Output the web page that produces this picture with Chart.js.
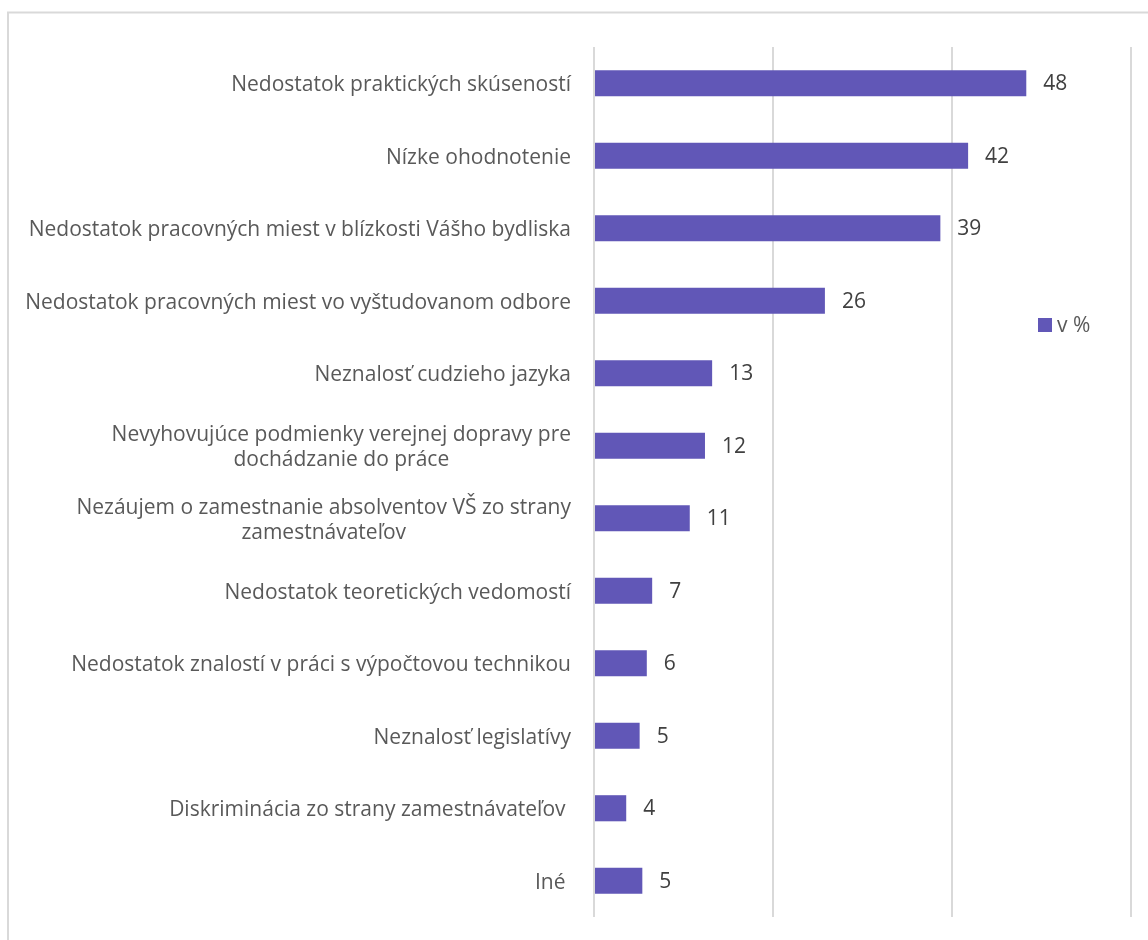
<!DOCTYPE html>
<html>
<head>
<meta charset="utf-8">
<script src="https://cdn.jsdelivr.net/npm/chart.js@4/dist/chart.umd.min.js"></script>
<style>
  html, body { margin: 0; padding: 0; background: #fff; overflow: hidden; }
  #wrap { position: absolute; left: 0; top: 0; width: 1148px; height: 940px; }
</style>
</head>
<body>
<div id="wrap"><canvas id="c" width="1148" height="940"></canvas></div>
<script>
const categories = [
  "Nedostatok praktických skúseností",
  "Nízke ohodnotenie",
  "Nedostatok pracovných miest v blízkosti Vášho bydliska",
  "Nedostatok pracovných miest vo vyštudovanom odbore",
  "Neznalosť cudzieho jazyka",
  ["Nevyhovujúce podmienky verejnej dopravy pre", "dochádzanie do práce"],
  ["Nezáujem o zamestnanie absolventov VŠ zo strany", "zamestnávateľov"],
  "Nedostatok teoretických vedomostí",
  "Nedostatok znalostí v práci s výpočtovou technikou",
  "Neznalosť legislatívy",
  "Diskriminácia zo strany zamestnávateľov ",
  "Iné "
];
// bar lengths (labels show rounded values)
const values = [48.3, 41.8, 38.7, 25.8, 13.2, 12.4, 10.7, 6.5, 5.9, 5.1, 3.6, 5.4];
const valueLabels = ["48", "42", "39", "26", "13", "12", "11", "7", "6", "5", "4", "5"];
const seriesLabel = "v %";
const axisMin = 0, axisMax = 60, axisStep = 20;

const FONT = "'Open Sans', 'Liberation Sans', sans-serif";
const BAR_COLOR = "#6157b7";
const LABEL_SIZE = 21;

const frame = {
  id: 'frame',
  beforeDraw(chart) {
    const ctx = chart.ctx;
    ctx.save();
    ctx.fillStyle = '#fff';
    ctx.fillRect(0, 0, chart.width, chart.height);
    ctx.strokeStyle = '#d9d9d9';
    ctx.lineWidth = 2;
    ctx.strokeRect(8, 12.5, 1300, 1100);
    ctx.restore();
  }
};

const catLabels = {
  id: 'catLabels',
  afterDraw(chart) {
    const ctx = chart.ctx;
    const ys = chart.scales.y;
    ctx.save();
    ctx.font = LABEL_SIZE + "px " + FONT;
    ctx.fillStyle = '#595959';
    ctx.textBaseline = 'middle';
    ctx.textAlign = 'center';
    const right = chart.chartArea.left - 23;
    const lh = 25;
    categories.forEach((lab, i) => {
      const lines = Array.isArray(lab) ? lab : [lab];
      const w = Math.max(...lines.map(l => ctx.measureText(l).width));
      const cx = right - w / 2;
      const y0 = ys.getPixelForValue(i) - (lines.length - 1) * lh / 2 + 2;
      lines.forEach((l, k) => ctx.fillText(l, cx, y0 + k * lh));
    });
    ctx.restore();
  }
};

const barValueLabels = {
  id: 'barValueLabels',
  afterDatasetsDraw(chart) {
    const ctx = chart.ctx;
    const meta = chart.getDatasetMeta(0);
    ctx.save();
    ctx.font = LABEL_SIZE + "px " + FONT;
    ctx.fillStyle = '#404040';
    ctx.textBaseline = 'middle';
    ctx.textAlign = 'left';
    meta.data.forEach((bar, i) => {
      ctx.fillText(valueLabels[i], bar.x + 17, bar.y + 1);
    });
    ctx.restore();
  }
};

const customLegend = {
  id: 'customLegend',
  afterDraw(chart) {
    const ctx = chart.ctx;
    const ds = chart.data.datasets[0];
    ctx.save();
    ctx.fillStyle = ds.backgroundColor;
    ctx.fillRect(1038, 318, 14, 14);
    ctx.font = LABEL_SIZE + "px " + FONT;
    ctx.fillStyle = '#595959';
    ctx.textBaseline = 'middle';
    ctx.textAlign = 'left';
    ctx.fillText(ds.label, 1057, 326);
    ctx.restore();
  }
};

new Chart(document.getElementById('c'), {
  type: 'bar',
  data: {
    labels: categories,
    datasets: [{
      label: seriesLabel,
      data: values,
      backgroundColor: BAR_COLOR,
      borderWidth: 0,
      categoryPercentage: 1,
      barPercentage: 0.36
    }]
  },
  options: {
    indexAxis: 'y',
    responsive: false,
    animation: false,
    devicePixelRatio: 1,
    layout: { padding: { left: 0, right: 17, top: 47, bottom: 23 } },
    plugins: { legend: { display: false }, tooltip: { enabled: false } },
    scales: {
      x: {
        min: axisMin, max: axisMax,
        ticks: { display: false, stepSize: axisStep },
        grid: { color: '#d9d9d9', lineWidth: 2, drawTicks: false },
        border: { display: false }
      },
      y: {
        ticks: { display: false },
        grid: { display: false, drawTicks: false },
        border: { display: false },
        afterFit(scale) { scale.width = 594; }
      }
    }
  },
  plugins: [frame, catLabels, barValueLabels, customLegend]
});
</script>
</body>
</html>
